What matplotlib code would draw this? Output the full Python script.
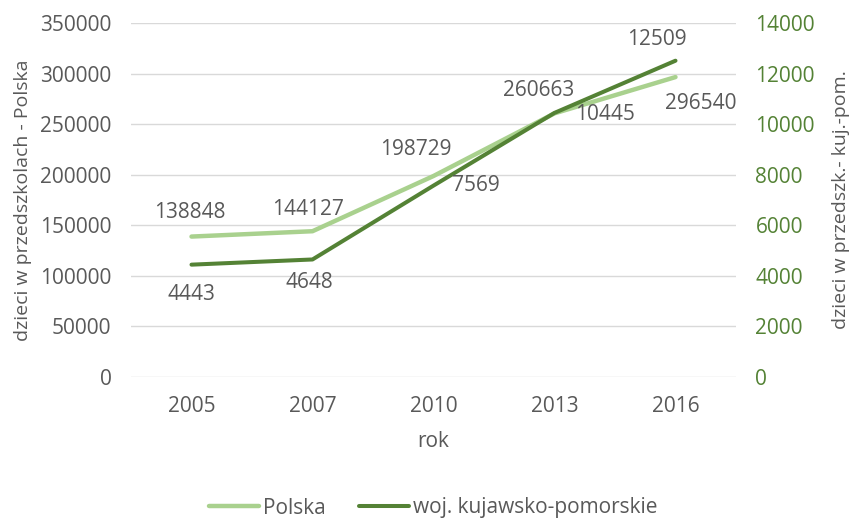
import matplotlib
matplotlib.use("Agg")
import matplotlib.pyplot as plt
import numpy as np

years = ["2005", "2007", "2010", "2013", "2016"]
polska = [138848, 144127, 198729, 260663, 296540]
kujpom = [4443, 4648, 7569, 10445, 12509]

left_ticks = [0, 50000, 100000, 150000, 200000, 250000, 300000, 350000]
right_ticks = [0, 2000, 4000, 6000, 8000, 10000, 12000, 14000]

LIGHT = "#a9d18e"
DARK = "#548235"
GRAY = "#595959"

plt.rcParams['font.family'] = ['Open Sans', 'DejaVu Sans']
FS = 15

fig = plt.figure(figsize=(8.5, 5.2), dpi=100)
ax = fig.add_axes([131/850, 1-377/520, (736-131)/850, (377-23)/520])
ax2 = ax.twinx()

x = np.arange(len(years))
ax.plot(x, polska, color=LIGHT, lw=3.2, solid_capstyle='round', zorder=3, label="Polska")
ax2.plot(x, kujpom, color=DARK, lw=2.9, solid_capstyle='round', zorder=3, label="woj. kujawsko-pomorskie")

ax.set_xlim(-0.5, len(years)-0.5)
ax.set_ylim(0, 350000)
ax2.set_ylim(0, 14000)
ax.set_yticks(left_ticks)
ax.set_yticklabels([str(v) for v in left_ticks])
ax2.set_yticks(right_ticks)
ax2.set_yticklabels([str(v) for v in right_ticks])
ax.set_xticks(x)
ax.set_xticklabels(years)

ax.grid(axis='y', color='#d9d9d9', lw=1)
ax.set_axisbelow(True)
for a in (ax, ax2):
    for s in a.spines.values():
        s.set_visible(False)
ax.tick_params(axis='both', length=0, labelsize=FS, colors=GRAY)
ax.tick_params(axis='y', pad=14)
ax.tick_params(axis='x', pad=14)
ax2.tick_params(axis='y', length=0, labelsize=FS, colors=DARK, pad=14)

ax.set_xlabel("rok", fontsize=FS, color=GRAY, labelpad=10)
ax.set_ylabel("dzieci w przedszkolach - Polska", fontsize=14, color=GRAY, labelpad=6)
ax2.set_ylabel("dzieci w przedszk.- kuj.-pom.", fontsize=14, color=GRAY, labelpad=12)

# label offsets in pixels (dx, dy)
pol_off = [(-2, 24), (-5, 22), (-18, 26), (-16, 23), (25, -26)]
kuj_off = [(0, -30), (-3, -23), (42, 0), (50, -2), (-19, 21)]
for i, v in enumerate(polska):
    ax.annotate(str(v), (x[i], v), xytext=pol_off[i], textcoords='offset pixels',
                ha='center', va='center', fontsize=FS, color=GRAY, zorder=5)
for i, v in enumerate(kujpom):
    ax2.annotate(str(v), (x[i], v), xytext=kuj_off[i], textcoords='offset pixels',
                 ha='center', va='center', fontsize=FS, color=GRAY, zorder=5)

h1, l1 = ax.get_legend_handles_labels()
h2, l2 = ax2.get_legend_handles_labels()
fig.legend(h1 + h2, l1 + l2, loc='center', bbox_to_anchor=(433/850, 1-508/520),
           ncol=2, frameon=False, fontsize=FS, labelcolor=GRAY,
           handlelength=2.4, handletextpad=0.2, columnspacing=1.6)

fig.savefig("out.png", dpi=100)
